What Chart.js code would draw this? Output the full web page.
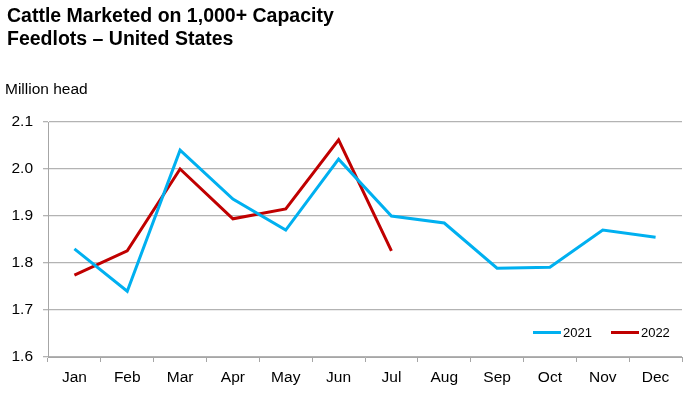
<!DOCTYPE html>
<html>
<head>
<meta charset="utf-8">
<script src="https://cdn.jsdelivr.net/npm/chart.js@4"></script>
<style>
    body { margin: 0; background: #fff; font-family: "Liberation Sans", Arial, sans-serif; }
    #wrap { position: relative; width: 691px; height: 394px; }
    #title { position: absolute; left: 7px; top: 4px; font-weight: bold; font-size: 19.5px; line-height: 23px; color: #000; }
    #unit { position: absolute; left: 5px; top: 80px; font-size: 15.5px; color: #000; }
    #legend { position: absolute; top: 325px; left: 533px; font-size: 13px; color: #000; display: flex; align-items: center; }
    .item { display: flex; align-items: center; margin-right: 19px; }
    .swatch { width: 28px; height: 3px; margin-right: 2px; }
    canvas { position: absolute; left: 0; top: 0; }
</style>
</head>
<body>
<div id="wrap">
    <canvas id="cattleChart" width="691" height="394"></canvas>
    <div id="title">Cattle Marketed on 1,000+ Capacity<br>Feedlots – United States</div>
    <div id="unit">Million head</div>
    <div id="legend">
        <div class="item"><span class="swatch" style="background:#00B0F0"></span>2021</div>
        <div class="item"><span class="swatch" style="background:#C00000"></span>2022</div>
    </div>
</div>
<script>
    // months on the x axis
    const months = ["Jan", "Feb", "Mar", "Apr", "May", "Jun", "Jul", "Aug", "Sep", "Oct", "Nov", "Dec"];
    // million head
    const values2021 = [1.830, 1.740, 2.040, 1.936, 1.870, 2.021, 1.900, 1.885, 1.789, 1.791, 1.870, 1.855];
    const values2022 = [1.774, 1.826, 2.000, 1.894, 1.915, 2.062, 1.826];

    let ctx = document.getElementById("cattleChart").getContext("2d");
    Chart.defaults.font.family = '"Liberation Sans", Arial, sans-serif';
    Chart.defaults.color = "#000";

    window.cattleChart = new Chart(ctx, {
        type: "line",
        data: {
            labels: months,
            datasets: [
                {
                    label: "2021",
                    data: values2021,
                    borderColor: "#00B0F0",
                    borderWidth: 3,
                    pointRadius: 0,
                    tension: 0,
                },
                {
                    label: "2022",
                    data: values2022,
                    borderColor: "#C00000",
                    borderWidth: 3,
                    pointRadius: 0,
                    tension: 0,
                },
            ],
        },
        options: {
            responsive: false,
            animation: false,
            layout: { padding: { top: 122, right: 9, left: 0, bottom: 0 } },
            plugins: { legend: { display: false }, tooltip: { enabled: false } },
            scales: {
                x: {
                    offset: true,
                    grid: { offset: true, drawOnChartArea: false, tickLength: 5, color: "#a6a6a6" },
                    border: { color: "#a6a6a6", width: 1 },
                    ticks: { font: { size: 15.5 }, padding: 6, maxRotation: 0 },
                    afterFit: (scale) => { scale.height = 37; },
                },
                y: {
                    min: 1.6,
                    max: 2.1,
                    grid: { color: "#b3b3b3", tickLength: 5, lineWidth: 1.3 },
                    border: { color: "#a6a6a6", width: 1 },
                    ticks: {
                        stepSize: 0.1,
                        font: { size: 15.5 },
                        padding: 10,
                        callback: (v) => v.toFixed(1),
                    },
                    afterFit: (scale) => { scale.width = 48; },
                },
            },
        },
    });
</script>
</body>
</html>
